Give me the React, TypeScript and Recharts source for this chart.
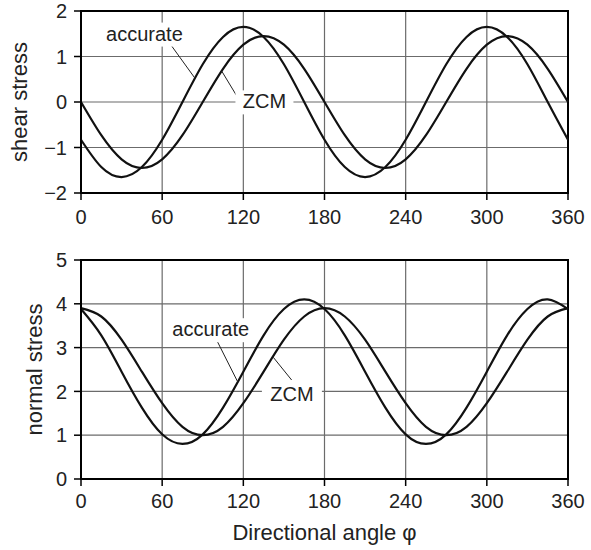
import React from "react";
import {
  LineChart,
  Line,
  XAxis,
  YAxis,
  CartesianGrid,
  ReferenceLine,
  ReferenceDot,
  ReferenceArea,
} from "recharts";

// Directional angle samples (degrees)
const angles = [0, 15, 30, 45, 60, 75, 90, 105, 120, 135, 150, 165, 180, 195, 210, 225, 240, 255, 270, 285, 300, 315, 330, 345, 360];

// Shear stress
const shearAccurate = [-0.83, -1.43, -1.65, -1.43, -0.83, 0, 0.83, 1.43, 1.65, 1.43, 0.83, 0, -0.83, -1.43, -1.65, -1.43, -0.83, 0, 0.83, 1.43, 1.65, 1.43, 0.83, 0, -0.83];
const shearZcm = [0, -0.73, -1.26, -1.45, -1.26, -0.73, 0, 0.73, 1.26, 1.45, 1.26, 0.73, 0, -0.73, -1.26, -1.45, -1.26, -0.73, 0, 0.73, 1.26, 1.45, 1.26, 0.73, 0];

// Normal stress
const normalAccurate = [3.88, 3.28, 2.45, 1.63, 1.02, 0.8, 1.02, 1.63, 2.45, 3.28, 3.88, 4.1, 3.88, 3.28, 2.45, 1.63, 1.02, 0.8, 1.02, 1.63, 2.45, 3.28, 3.88, 4.1, 3.88];
const normalZcm = [3.9, 3.71, 3.18, 2.45, 1.73, 1.19, 1.0, 1.19, 1.73, 2.45, 3.18, 3.71, 3.9, 3.71, 3.18, 2.45, 1.73, 1.19, 1.0, 1.19, 1.73, 2.45, 3.18, 3.71, 3.9];

// Ticks
const xTicks = [0, 60, 120, 180, 240, 300, 360];
const shearTicks = [-2, -1, 0, 1, 2];
const normalTicks = [0, 1, 2, 3, 4, 5];

// Labels
const xTitle = "Directional angle φ";
const shearTitle = "shear stress";
const normalTitle = "normal stress";
const accurateLabel = "accurate";
const zcmLabel = "ZCM";

const shearData = angles.map((a, i) => ({ phi: a, accurate: shearAccurate[i], zcm: shearZcm[i] }));
const normalData = angles.map((a, i) => ({ phi: a, accurate: normalAccurate[i], zcm: normalZcm[i] }));

const FONT = '"Liberation Sans", Arial, Helvetica, sans-serif';
const TEXT = "#222";
const GRID = "#6b6b6b";

const fmt = (v: number) => String(v).replace("-", "\u2212");

const makeLabel = (text: string, w: number) => (props: any) => {
  const { cx, cy } = props;
  return (
    <g>
      <rect x={cx - w / 2} y={cy - 18} width={w} height={24} fill="#fff" />
      <text x={cx} y={cy} textAnchor="middle" fontSize={20} fontFamily={FONT} fill={TEXT}>
        {text}
      </text>
    </g>
  );
};

const yTitle = (text: string, x: number) => (props: any) => {
  const vb = props.viewBox || {};
  const cy = vb.y + vb.height / 2;
  return (
    <text
      x={x}
      y={cy}
      transform={`rotate(-90, ${x}, ${cy})`}
      textAnchor="middle"
      fontSize={22}
      fontFamily={FONT}
      fill={TEXT}
    >
      {text}
    </text>
  );
};

const tickStyle = { fontSize: 20, fontFamily: FONT, fill: TEXT };

export default function App() {
  return (
    <div style={{ position: "absolute", left: 0, top: 0, width: 591, height: 550, background: "#fff" }}>
      <div style={{ position: "absolute", left: 0, top: 0 }}>
        <LineChart width={591} height={240} data={shearData} margin={{ top: 11, right: 23, bottom: 0, left: 0 }}>
          <CartesianGrid stroke={GRID} strokeWidth={1.2} horizontalValues={shearTicks} verticalValues={xTicks} />
          <XAxis
            dataKey="phi"
            type="number"
            domain={[0, 360]}
            ticks={xTicks}
            height={47}
            tickSize={7}
            tickMargin={10}
            tick={tickStyle}
            axisLine={{ stroke: "#000", strokeWidth: 2 }}
            tickLine={{ stroke: "#000", strokeWidth: 1.5 }}
            interval={0}
          />
          <YAxis
            type="number"
            domain={[-2, 2]}
            ticks={shearTicks}
            width={81}
            tickSize={7}
            tickMargin={7}
            tick={tickStyle}
            tickFormatter={fmt}
            axisLine={{ stroke: "#000", strokeWidth: 2 }}
            tickLine={{ stroke: "#000", strokeWidth: 1.5 }}
            interval={0}
            label={{ content: yTitle(shearTitle, 27) }}
          />
          <ReferenceArea x1={0} x2={360} y1={-2} y2={2} fill="none" stroke="#000" strokeWidth={2} />
          <Line type="natural" dataKey="accurate" stroke="#111" strokeWidth={2.2} dot={false} isAnimationActive={false} />
          <Line type="natural" dataKey="zcm" stroke="#111" strokeWidth={2.2} dot={false} isAnimationActive={false} />
          <ReferenceLine segment={[{ x: 66.8, y: 1.24 }, { x: 84.3, y: 0.52 }]} stroke="#222" strokeWidth={1} />
          <ReferenceLine segment={[{ x: 116, y: 0.09 }, { x: 104, y: 0.68 }]} stroke="#222" strokeWidth={1} />
          <ReferenceDot x={46.9} y={1.35} r={0} shape={makeLabel(accurateLabel, 84)} />
          <ReferenceDot x={135.6} y={-0.14} r={0} shape={makeLabel(zcmLabel, 58)} />
        </LineChart>
      </div>
      <div style={{ position: "absolute", left: 0, top: 240 }}>
        <LineChart width={591} height={310} data={normalData} margin={{ top: 20, right: 23, bottom: 0, left: 0 }}>
          <CartesianGrid stroke={GRID} strokeWidth={1.2} horizontalValues={normalTicks} verticalValues={xTicks} />
          <XAxis
            dataKey="phi"
            type="number"
            domain={[0, 360]}
            ticks={xTicks}
            height={71}
            tickSize={7}
            tickMargin={8}
            tick={tickStyle}
            axisLine={{ stroke: "#000", strokeWidth: 2 }}
            tickLine={{ stroke: "#000", strokeWidth: 1.5 }}
            interval={0}
            label={{ value: xTitle, position: "insideBottom", offset: 10, fontSize: 22, fontFamily: FONT, fill: TEXT }}
          />
          <YAxis
            type="number"
            domain={[0, 5]}
            ticks={normalTicks}
            width={81}
            tickSize={7}
            tickMargin={7}
            tick={tickStyle}
            axisLine={{ stroke: "#000", strokeWidth: 2 }}
            tickLine={{ stroke: "#000", strokeWidth: 1.5 }}
            interval={0}
            label={{ content: yTitle(normalTitle, 42) }}
          />
          <ReferenceArea x1={0} x2={360} y1={0} y2={5} fill="none" stroke="#000" strokeWidth={2} />
          <Line type="natural" dataKey="accurate" stroke="#111" strokeWidth={2.2} dot={false} isAnimationActive={false} />
          <Line type="natural" dataKey="zcm" stroke="#111" strokeWidth={2.2} dot={false} isAnimationActive={false} />
          <ReferenceLine segment={[{ x: 100.3, y: 3.17 }, { x: 115.8, y: 2.22 }]} stroke="#222" strokeWidth={1} />
          <ReferenceLine segment={[{ x: 142.1, y: 2.78 }, { x: 155.7, y: 2.26 }]} stroke="#222" strokeWidth={1} />
          <ReferenceDot x={95.9} y={3.26} r={0} shape={makeLabel(accurateLabel, 84)} />
          <ReferenceDot x={155.9} y={1.79} r={0} shape={makeLabel(zcmLabel, 60)} />
        </LineChart>
      </div>
    </div>
  );
}
